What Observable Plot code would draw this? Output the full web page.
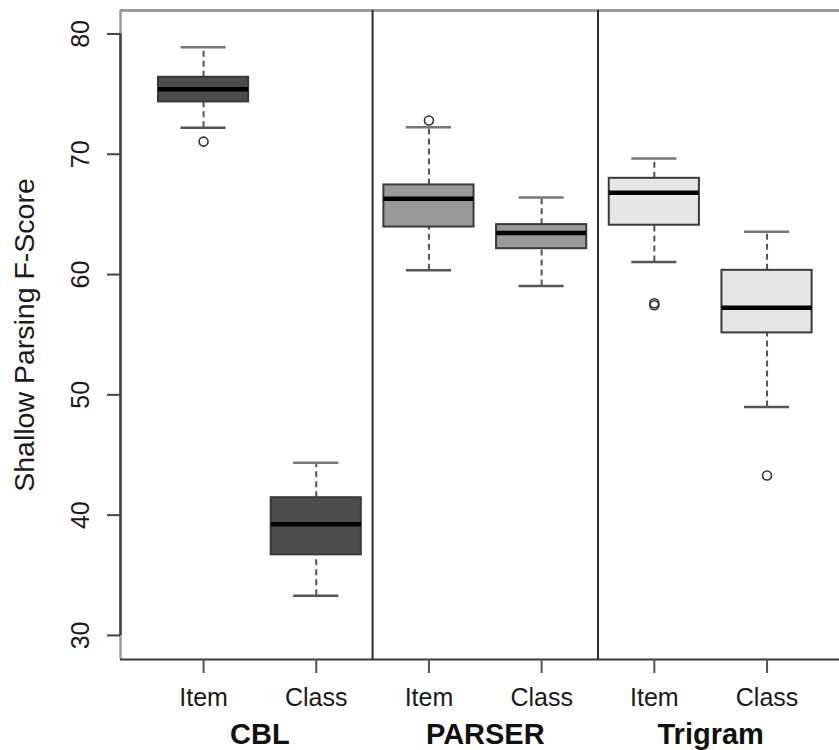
<!DOCTYPE html>
<html>
<head>
<meta charset="utf-8">
<script src="https://cdn.jsdelivr.net/npm/d3@7"></script>
<script src="https://cdn.jsdelivr.net/npm/@observablehq/plot@0.6"></script>
<style>
  html, body { margin: 0; padding: 0; background: #fff; }
  #chart svg { display: block; }
</style>
</head>
<body>
<div id="chart"></div>
<script>
// Shallow parsing F-scores per system (CBL, PARSER, Trigram) and evaluation mode
const groups = ["CBL", "CBL", "PARSER", "PARSER", "Trigram", "Trigram"];
const modes = ["Item", "Class", "Item", "Class", "Item", "Class"];
const lowerWhisker = [72.2, 33.3, 60.35, 59.05, 61.05, 49.0];
const lowerQuartile = [74.35, 36.7, 63.95, 62.15, 64.1, 55.15];
const medians = [75.4, 39.25, 66.3, 63.45, 66.8, 57.25];
const upperQuartile = [76.4, 41.45, 67.45, 64.15, 68.0, 60.35];
const upperWhisker = [78.9, 44.35, 72.25, 66.4, 69.65, 63.55];
const outlierBox = [1, 3, 5, 5, 6];
const outlierValue = [71.05, 72.8, 57.45, 57.62, 43.3];
const groupNames = ["CBL", "PARSER", "Trigram"];
const groupFill = {CBL: "#4d4d4d", PARSER: "#999999", Trigram: "#e6e6e6"};
const yTicks = [30, 40, 50, 60, 70, 80];

const boxes = groups.map((g, i) => ({
  pos: i + 1, group: g, mode: modes[i],
  lo: lowerWhisker[i], q1: lowerQuartile[i], med: medians[i],
  q3: upperQuartile[i], hi: upperWhisker[i]
}));
const outliers = outlierBox.map((p, i) => ({pos: p, value: outlierValue[i]}));
const groupInfo = groupNames.map(name => {
  const ps = boxes.filter(b => b.group === name).map(b => b.pos);
  return {name, center: (d3.min(ps) + d3.max(ps)) / 2, end: d3.max(ps) + 0.5};
});
const separators = groupInfo.slice(0, -1).map(d => d.end);

const xDomain = [0.263, 6.643];
const yDomain = [28, 81.95];
const halfBox = 0.4, halfCap = 0.2;

const chart = Plot.plot({
  width: 839,
  height: 750,
  marginLeft: 120,
  marginRight: 0,
  marginTop: 10,
  marginBottom: 91,
  style: {fontFamily: "'Liberation Sans', Arial, sans-serif", color: "#1a1a1a", background: "#fff"},
  x: {type: "linear", domain: xDomain, label: null},
  y: {domain: yDomain, label: null},
  marks: [
    // plot box (light frame)
    Plot.ruleY([yDomain[1]], {stroke: "#9a9a9a", strokeWidth: 3}),
    Plot.ruleX([xDomain[0]], {stroke: "#9a9a9a", strokeWidth: 2.5}),
    Plot.ruleY([yDomain[0]], {stroke: "#3a3a3a", strokeWidth: 2}),
    // group separators
    Plot.ruleX(separators, {stroke: "#2a2a2a", strokeWidth: 2}),
    // whiskers
    Plot.ruleX(boxes, {x: "pos", y1: "q3", y2: "hi", stroke: "#555", strokeWidth: 2, strokeDasharray: "6,4"}),
    Plot.ruleX(boxes, {x: "pos", y1: "lo", y2: "q1", stroke: "#555", strokeWidth: 2, strokeDasharray: "6,4"}),
    Plot.ruleY(boxes, {y: "hi", x1: d => d.pos - halfCap, x2: d => d.pos + halfCap, stroke: "#777", strokeWidth: 2.5}),
    Plot.ruleY(boxes, {y: "lo", x1: d => d.pos - halfCap, x2: d => d.pos + halfCap, stroke: "#555", strokeWidth: 2.5}),
    // boxes
    Plot.rect(boxes, {
      x1: d => d.pos - halfBox, x2: d => d.pos + halfBox, y1: "q1", y2: "q3",
      fill: d => groupFill[d.group], stroke: "#3a3a3a", strokeWidth: 2
    }),
    // medians
    Plot.ruleY(boxes, {y: "med", x1: d => d.pos - halfBox, x2: d => d.pos + halfBox, stroke: "#000", strokeWidth: 4.5}),
    // outliers
    Plot.dot(outliers, {x: "pos", y: "value", r: 4.5, stroke: "#333", strokeWidth: 1.6, fill: "none"}),
    // y axis
    Plot.ruleX([xDomain[0]], {y1: d3.min(yTicks), y2: d3.max(yTicks), stroke: "#444", strokeWidth: 2.5}),
    Plot.axisY({ticks: yTicks, tickSize: 13, tickPadding: 19, tickRotate: -90, fontSize: 25, stroke: "#444", strokeWidth: 2, label: null}),
    // x axis (mode labels)
    Plot.axisX({
      ticks: boxes.map(b => b.pos), tickSize: 14, tickPadding: 15, fontSize: 25,
      tickFormat: p => modes[p - 1], stroke: "#555", strokeWidth: 2, label: null
    }),
    // group labels
    Plot.text(groupInfo, {x: "center", text: "name", frameAnchor: "bottom", dy: 84, lineAnchor: "bottom", fontSize: 29, fontWeight: "bold", fill: "#111"}),
    // y axis title
    Plot.text(["Shallow Parsing F-Score"], {frameAnchor: "left", dx: -87, rotate: -90, textAnchor: "middle", lineAnchor: "bottom", fontSize: 28.5, fill: "#1a1a1a"})
  ]
});

document.getElementById("chart").appendChild(chart);
</script>
</body>
</html>
